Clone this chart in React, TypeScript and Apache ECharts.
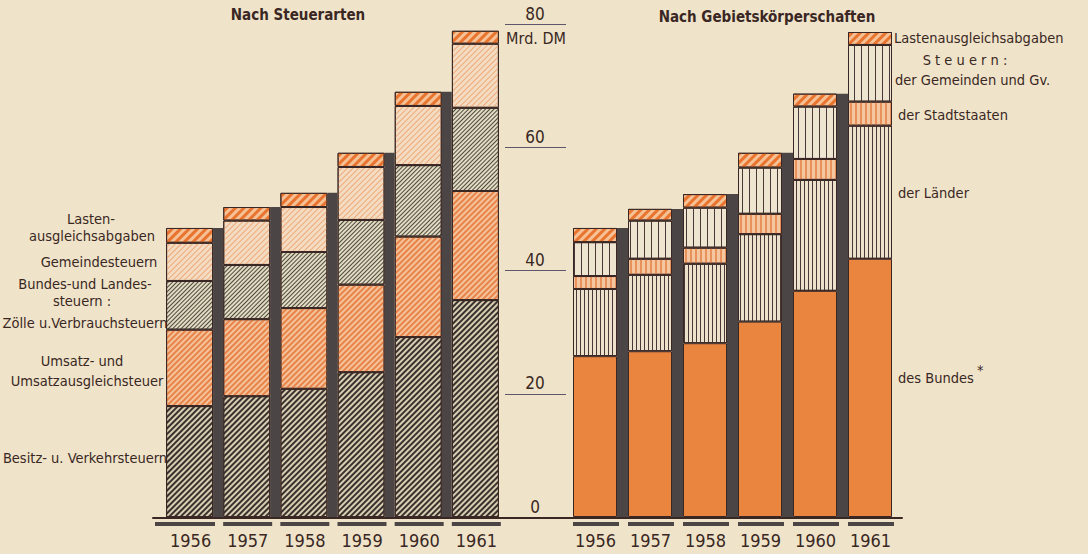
import { useEffect, useRef } from 'react';
import * as echarts from 'echarts';

// ---------- data (Mrd. DM) ----------
const years = ['1956', '1957', '1958', '1959', '1960', '1961'];

// Nach Steuerarten (bottom -> top)
const besitzVerkehr = [18.0, 19.6, 20.8, 23.5, 29.2, 35.2];
const umsatz = [12.4, 12.5, 13.1, 14.2, 16.3, 17.7];
const zoelleVerbrauch = [7.9, 8.8, 9.1, 10.5, 11.6, 13.5];
const gemeindesteuern = [6.2, 7.2, 7.3, 8.6, 9.6, 10.4];
const lastenLinks = [2.4, 2.2, 2.3, 2.3, 2.3, 2.1];

// Nach Gebietskörperschaften (bottom -> top)
const bund = [26.1, 26.9, 28.2, 31.7, 36.7, 41.9];
const laender = [10.9, 12.4, 12.9, 14.2, 18.0, 21.6];
const stadtstaaten = [2.1, 2.6, 2.6, 3.3, 3.4, 3.9];
const gemeindenGv = [5.5, 6.2, 6.5, 7.5, 8.5, 9.2];
const lastenRechts = [2.3, 1.9, 2.2, 2.4, 2.1, 2.1];

const axisMin = 0;
const axisMax = 80;
const axisStep = 20;

// ---------- styles ----------
const BG = '#efe4c9';
const INK = '#3a2724';
const SHADOW = '#4b4645';
const ORANGE = '#e9853f';
const FONT = '"Liberation Sans Narrow", "DejaVu Sans Condensed", "Open Sans", sans-serif';

const diag = (color: string, line: number, gap: number) => ({
  symbol: 'rect',
  symbolSize: 1,
  dashArrayX: [1, 0],
  dashArrayY: [line, gap],
  rotation: -Math.PI / 4,
  color,
});
const vert = (color: string, line: number, gap: number) => ({
  symbol: 'rect',
  symbolSize: 1,
  dashArrayX: [line, gap],
  dashArrayY: [1, 0],
  rotation: 0,
  color,
});

const sumAt = (arrs: number[][], i: number) => arrs.reduce((s, a) => s + a[i], 0);

export default function App() {
  const ref = useRef<HTMLDivElement>(null);

  useEffect(() => {
    document.body.style.margin = '0';
    document.body.style.background = BG;
    const chart = echarts.init(ref.current!, undefined, { renderer: 'svg' });

    const leftStack = [besitzVerkehr, umsatz, zoelleVerbrauch, gemeindesteuern, lastenLinks];
    const rightStack = [bund, laender, stadtstaaten, gemeindenGv, lastenRechts];
    const last = years.length - 1;
    const leftTotals = years.map((_, i) => (i === last ? '-' : +sumAt(leftStack, i).toFixed(1)));
    const rightTotals = years.map((_, i) => (i === last ? '-' : +sumAt(rightStack, i).toFixed(1)));

    const LBW = 47, LSW = 10, RBW = 44, RSW = 11;

    const seg = (name: string, data: number[], gi: number, stack: string, bw: number, color: string, decal?: any) => ({
      name,
      type: 'bar',
      xAxisIndex: gi,
      yAxisIndex: gi,
      stack,
      data,
      barWidth: bw,
      barGap: '0%',
      barCategoryGap: '0%',
      silent: true,
      itemStyle: { color, borderColor: INK, borderWidth: 1, ...(decal ? { decal } : {}) },
      z: 3,
    });
    const shadow = (data: any[], gi: number, bw: number) => ({
      type: 'bar',
      xAxisIndex: gi,
      yAxisIndex: gi,
      stack: 'shadow' + gi,
      data,
      barWidth: bw,
      barGap: '0%',
      barCategoryGap: '0%',
      silent: true,
      itemStyle: { color: SHADOW },
      z: 2,
    });
    const footing = (gi: number, bw: number, extendFirst: number) => ({
      type: 'custom',
      xAxisIndex: gi,
      yAxisIndex: gi,
      silent: true,
      data: years.map((_, i) => [i, 0]),
      renderItem: (params: any, api: any) => {
        const idx = api.value(0);
        const c = api.coord([idx, 0]);
        const band = api.size([1, 0])[0];
        const ext = idx === 0 ? extendFirst : 0;
        return {
          type: 'rect',
          shape: { x: c[0] - band / 2 - ext, y: c[1] + 5, width: bw + 2 + ext, height: 4 },
          style: { fill: SHADOW },
        };
      },
      z: 1,
    });

    const txt = (text: string, x: number, y: number, align: string = 'center', extra: any = {}) => ({
      type: 'text',
      x,
      y,
      silent: true,
      style: {
        text,
        fill: INK,
        font: `14.5px ${FONT}`,
        textAlign: align,
        textVerticalAlign: 'middle',
        ...extra,
      },
    });

    const yearAxis = (gi: number, padRight: number) => ({
      type: 'category',
      gridIndex: gi,
      data: years,
      axisLine: { show: false },
      axisTick: { show: false },
      splitLine: { show: false },
      axisLabel: {
        show: true,
        margin: 14,
        color: INK,
        fontSize: 18,
        fontFamily: FONT,
        padding: [0, padRight, 0, 0],
      },
    });
    const hiddenY = (gi: number) => ({
      type: 'value',
      gridIndex: gi,
      min: axisMin,
      max: axisMax,
      interval: axisStep,
      show: false,
    });

    chart.setOption({
      animation: false,
      backgroundColor: BG,
      grid: [
        { left: 166, width: 343, top: 24, height: 493 },
        { left: 573, width: 330, top: 24, height: 493 },
        { left: 505, width: 61, top: 24, height: 493 },
        { left: 153, width: 749, top: 24, height: 494 },
      ],
      xAxis: [
        yearAxis(0, 8),
        yearAxis(1, 10),
        { type: 'value', gridIndex: 2, show: false },
        {
          type: 'value',
          gridIndex: 3,
          min: 0,
          max: 1,
          axisLine: { show: true, lineStyle: { color: INK, width: 2 } },
          axisTick: { show: false },
          axisLabel: { show: false },
          splitLine: { show: false },
        },
      ],
      yAxis: [
        hiddenY(0),
        hiddenY(1),
        {
          type: 'value',
          gridIndex: 2,
          min: axisMin,
          max: axisMax,
          interval: axisStep,
          axisLine: { show: false },
          axisTick: { show: false },
          splitLine: { show: true, lineStyle: { color: '#5e566a', width: 1 } },
          axisLabel: {
            show: true,
            margin: -30,
            align: 'center',
            verticalAlign: 'bottom',
            padding: [0, 0, 2, 0],
            color: INK,
            fontSize: 17,
            fontFamily: FONT,
          },
        },
        { type: 'value', gridIndex: 3, show: false },
      ],
      series: [
        footing(0, LBW, 11),
        footing(1, RBW, 0),
        seg('Besitz- u. Verkehrsteuern', besitzVerkehr, 0, 'L', LBW, '#d8ceb3', diag('#3a302c', 2, 2)),
        seg('Umsatz- und Umsatzausgleichsteuer', umsatz, 0, 'L', LBW, '#f4c39a', diag('#e8834a', 2, 2)),
        seg('Zölle u.Verbrauchsteuern', zoelleVerbrauch, 0, 'L', LBW, '#e2dbc2', diag('#4d4a3e', 1, 2)),
        seg('Gemeindesteuern', gemeindesteuern, 0, 'L', LBW, '#f3dcc1', diag('#eeaa7c', 1, 3)),
        seg('Lastenausgleichsabgaben', lastenLinks, 0, 'L', LBW, '#f5c195', diag('#e8742f', 3, 3)),
        shadow(leftTotals, 0, LSW),
        seg('des Bundes', bund, 1, 'R', RBW, ORANGE),
        seg('der Länder', laender, 1, 'R', RBW, '#ece2cb', vert('#4a3839', 1, 3)),
        seg('der Stadtstaaten', stadtstaaten, 1, 'R', RBW, '#f4c7a0', vert('#e9915a', 2, 3)),
        seg('der Gemeinden und Gv.', gemeindenGv, 1, 'R', RBW, '#eee5d0', vert('#4a3839', 1, 6)),
        seg('Lastenausgleichsabgaben ', lastenRechts, 1, 'R', RBW, '#f5c195', diag('#e8742f', 3, 3)),
        shadow(rightTotals, 1, RSW),
      ],
      graphic: [
        txt('Nach Steuerarten', 298, 15, 'center', { font: `bold 15px ${FONT}` }),
        txt('Nach Gebietskörperschaften', 767, 17, 'center', { font: `bold 15px ${FONT}` }),
        txt('Mrd. DM', 536, 38, 'center', { font: `16px ${FONT}` }),
        txt('Lasten-', 91, 219),
        txt('ausgleichsabgaben', 92, 236),
        txt('Gemeindesteuern', 99, 262),
        txt('Bundes-und Landes-', 85, 284),
        txt('steuern :', 82, 301),
        txt('Zölle u.Verbrauchsteuern', 85, 323),
        txt('Umsatz- und', 82, 361),
        txt('Umsatzausgleichsteuer', 87, 381),
        txt('Besitz- u. Verkehrsteuern', 85, 458),
        txt('Lastenausgleichsabgaben', 894, 38, 'left'),
        txt('S t e u e r n :', 965, 60, 'center'),
        txt('der Gemeinden und Gv.', 895, 80, 'left'),
        txt('der Stadtstaaten', 898, 115, 'left'),
        txt('der Länder', 898, 193, 'left'),
        txt('des Bundes', 898, 378, 'left'),
        txt('*', 977, 370, 'left'),
      ],
    });

    return () => chart.dispose();
  }, []);

  return (
    <div
      ref={ref}
      style={{ position: 'absolute', left: 0, top: 0, width: 1088, height: 554, background: BG }}
    />
  );
}
